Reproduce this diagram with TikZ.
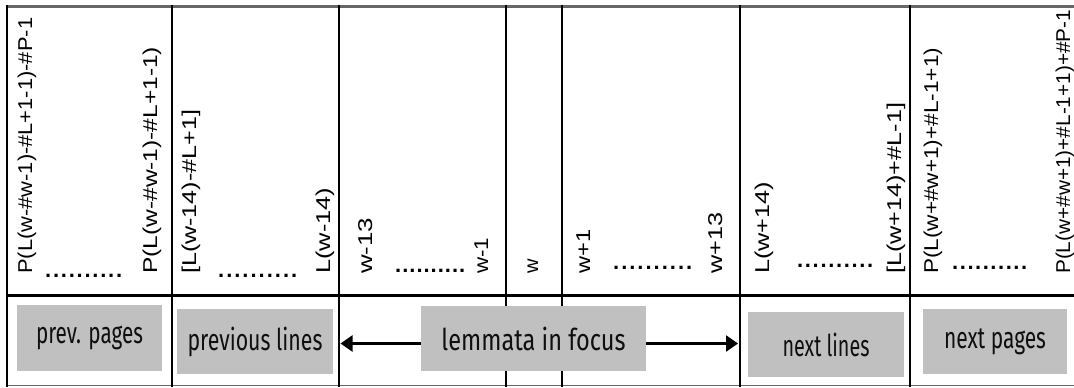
\documentclass[tikz,border=0pt]{standalone}
\usepackage{fontspec}
\usepackage{graphicx}
\setmainfont{Liberation Sans}
\newfontfamily\boxfont{Fira Sans}
\usetikzlibrary{arrows.meta}
\definecolor{boxgray}{RGB}{192,192,192}
\definecolor{textdark}{RGB}{15,15,15}

% rotated index label: name, baseline x, length along the column, text
\newcommand{\idxlabel}[4]{%
  \node[idx] (#1) at (#2,274) {\resizebox{#3pt}{\height}{#4}};}
% row of ten dots: name, left x, width, baseline y
\newcommand{\dotrow}[4]{%
  \node[dotline] (#1) at (#2,#4) {\makebox[#3pt][s]{.\hfill.\hfill.\hfill.\hfill.\hfill.\hfill.\hfill.\hfill.\hfill.}};}

\tikzset{
  idx/.style={rotate=90, anchor=base west, inner sep=0pt, font=\fontsize{20}{20}\selectfont},
  dotline/.style={anchor=base west, inner sep=0pt, font=\bfseries\fontsize{22}{22}\selectfont},
  grid/.style={line width=2pt, black},
  band/.style={line width=3pt, black},
  rim/.style={line width=3pt, black!60},
  tag/.style={fill=boxgray, inner sep=0pt, text=textdark, font=\boxfont\fontsize{30}{30}\selectfont},
  flow/.style={line width=2.5pt, -{Triangle[length=12pt, width=16pt]}},
}

\begin{document}
\begin{tikzpicture}[x=1pt, y=-1pt]
\useasboundingbox (0,0) rectangle (1074,388);

% frame and column rules
\draw[rim] (7,6.5) -- (1074,6.5);
\draw[line width=1.5pt, black!60] (7,385.5) -- (1074,385.5);
\draw[grid] (7,5) -- (7,387);
\foreach \cx in {172,339,506,561.5,739.5,909.5}
  \draw[grid] (\cx,5) -- (\cx,387);
\draw[band] (7,295) -- (1074,295);

% column boundaries used as arrow targets
\coordinate (prevedge) at (340.5,343.5);
\coordinate (nextedge) at (738,343.5);

% previous pages
\idxlabel{pp1}{32}{256}{P(L(w-\#w-1)-\#L+1-1)-\#P-1}
\dotrow{ppd}{45}{77}{277}
\idxlabel{pp2}{157}{227}{P(L(w-\#w-1)-\#L+1-1)}

% previous lines
\idxlabel{pl1}{196}{164}{[L(w-14)-\#L+1]}
\dotrow{pld}{218}{79}{277}
\idxlabel{pl2}{330}{86}{L(w-14)}

% lemmata before the focus
\idxlabel{lb1}{372}{56}{w-13}
\dotrow{lbd}{395}{70}{272}
\idxlabel{lb2}{488}{36}{w-1}

% focus
\node[idx] (focus) at (538,274) {w};

% lemmata after the focus
\idxlabel{la1}{590}{44}{w+1}
\dotrow{lad}{613}{79}{269}
\idxlabel{la2}{722}{61}{w+13}

% next lines
\idxlabel{nl1}{769}{92}{L(w+14)}
\dotrow{nld}{797}{76}{267}
\idxlabel{nl2}{901}{171}{[L(w+14)+\#L-1]}

% next pages
\idxlabel{np1}{938}{226}{P(L(w+\#w+1)+\#L-1+1)}
\dotrow{npd}{952}{75}{269}
\idxlabel{np2}{1070}{264}{P(L(w+\#w+1)+\#L-1+1)+\#P-1}

% region tags
\node[tag, minimum width=145pt, minimum height=66pt] (prevpages) at (89.5,338) {\resizebox{107pt}{\height}{prev. pages}};
\node[tag, minimum width=156pt, minimum height=65pt] (prevlines) at (255,341.5) {\resizebox{135pt}{\height}{previous lines}};
\node[tag, minimum width=225pt, minimum height=65pt] (focusbox) at (533.5,338.5) {\resizebox{184pt}{\height}{lemmata in focus}};
\node[tag, minimum width=156pt, minimum height=65pt] (nextlines) at (826,344.5) {\resizebox{87pt}{\height}{next lines}};
\node[tag, minimum width=144pt, minimum height=65pt] (nextpages) at (995,341.5) {\resizebox{102pt}{\height}{next pages}};

% reading direction
\draw[flow] (focusbox.west |- prevedge) -- (prevedge);
\draw[flow] (focusbox.east |- nextedge) -- (nextedge);
\end{tikzpicture}
\end{document}
